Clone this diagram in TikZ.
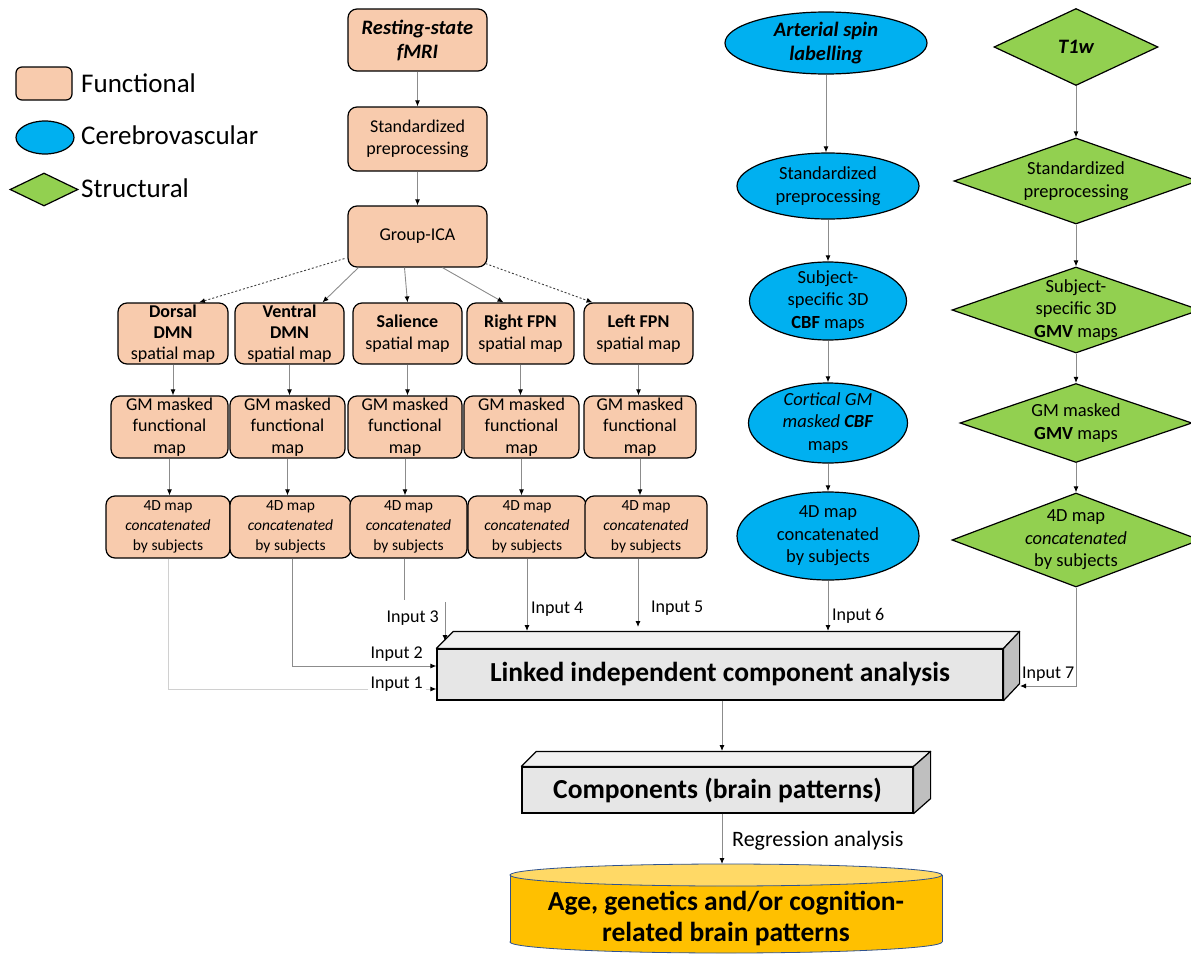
\documentclass[tikz,border=0pt]{standalone}
\usepackage{fontspec}
\setmainfont{Carlito}
\usetikzlibrary{shapes.geometric,arrows.meta,calc}
\definecolor{peach}{HTML}{F8CBAD}
\definecolor{cblue}{HTML}{00B0F0}
\definecolor{sgreen}{HTML}{92D050}
\definecolor{cylorange}{HTML}{FFC000}
\definecolor{cyltop}{HTML}{FFD966}
\definecolor{cylline}{HTML}{2F528F}
\definecolor{frontgray}{HTML}{E6E6E6}
\definecolor{topgray}{HTML}{F0F0F0}
\definecolor{sidegray}{HTML}{BFBFBF}
\definecolor{linegray}{HTML}{8C8C8C}
\definecolor{lightline}{HTML}{D0D0D0}
\newcommand{\myfs}[2]{\fontsize{#1}{#2}\selectfont}
\begin{document}
\begin{tikzpicture}[x=1pt,y=-1pt,
  fbox/.style={draw=black, line width=1.2pt, fill=peach, rounded corners=9pt, inner sep=0pt, align=center, font=\myfs{18}{22}},
  ell/.style={ellipse, draw=black, line width=1.2pt, fill=cblue, inner sep=0pt},
  dia/.style={diamond, draw=black, line width=1.2pt, fill=sgreen, inner sep=0pt},
  txt/.style={align=center, font=\myfs{18.5}{22.5}, inner sep=0pt},
  arr/.style={draw=linegray, line width=0.9pt, -{Latex[length=6pt,width=5pt,color=black]}},
  darr/.style={arr, draw=black!75, dash pattern=on 2pt off 2pt},
  plain/.style={draw=linegray, line width=0.9pt},
  lab/.style={font=\myfs{18}{22}, inner sep=0pt},
  cube/.style={draw=black, line width=1.2pt, fill=frontgray, inner sep=0pt, font=\bfseries\myfs{27.5}{32}},
  face/.style={draw=black, line width=1.2pt, line join=round}
]
\useasboundingbox (0,0) rectangle (1191,953);
\clip (0,0) rectangle (1191,953);

% ---------- legend ----------
\node[fbox, minimum width=56, minimum height=33, rounded corners=6pt] (lgf) at (44,83.5) {};
\node[ell, minimum width=58, minimum height=33] (lgc) at (45,137.5) {};
\node[dia, minimum width=68, minimum height=33] (lgs) at (44,189.5) {};
\node[anchor=base west, font=\myfs{27}{32}, inner sep=0pt] (lgft) at (81,92) {Functional};
\node[anchor=base west, font=\myfs{27}{32}, inner sep=0pt] (lgct) at (81,144) {Cerebrovascular};
\node[anchor=base west, font=\myfs{27}{32}, inner sep=0pt] (lgst) at (81,197) {Structural};

% ---------- functional column ----------
\node[fbox, minimum width=139, minimum height=62, font=\bfseries\itshape\myfs{20.5}{24}] (rs) at (417.5,40) {Resting-state\\fMRI};
\node[fbox, minimum width=139, minimum height=64] (fstd) at (417.5,139) {Standardized\\preprocessing};
\node[fbox, minimum width=139, minimum height=61] (gica) at (417.5,236.5) {Group-ICA};

\node[fbox, minimum width=110, minimum height=61, font=\myfs{18}{21}] (sp1) at (173,333.5) {\textbf{Dorsal}\\\textbf{DMN}\\spatial map};
\node[fbox, minimum width=109, minimum height=61, font=\myfs{18}{21}] (sp2) at (289.5,333.5) {\textbf{Ventral}\\\textbf{DMN}\\spatial map};
\node[fbox, minimum width=109, minimum height=61] (sp3) at (407.5,333.5) {\textbf{Salience}\\spatial map};
\node[fbox, minimum width=107, minimum height=61] (sp4) at (520.5,333.5) {\textbf{Right FPN}\\spatial map};
\node[fbox, minimum width=109, minimum height=61] (sp5) at (638.5,333.5) {\textbf{Left FPN}\\spatial map};

\node[fbox, minimum width=117, minimum height=62, font=\myfs{18}{21.5}] (gm1) at (169.5,427) {GM masked\\functional\\map};
\node[fbox, minimum width=115, minimum height=62, font=\myfs{18}{21.5}] (gm2) at (287.5,427) {GM masked\\functional\\map};
\node[fbox, minimum width=114, minimum height=62, font=\myfs{18}{21.5}] (gm3) at (405,427) {GM masked\\functional\\map};
\node[fbox, minimum width=115, minimum height=62, font=\myfs{18}{21.5}] (gm4) at (521.5,427) {GM masked\\functional\\map};
\node[fbox, minimum width=112, minimum height=62, font=\myfs{18}{21.5}] (gm5) at (640,427) {GM masked\\functional\\map};

\node[fbox, minimum width=124, minimum height=62, font=\myfs{15.5}{20}] (d41) at (168,527) {4D map\\\textit{concatenated}\\by subjects};
\node[fbox, minimum width=121, minimum height=62, font=\myfs{15.5}{20}] (d42) at (290.5,527) {4D map\\\textit{concatenated}\\by subjects};
\node[fbox, minimum width=117, minimum height=62, font=\myfs{15.5}{20}] (d43) at (408.5,527) {4D map\\\textit{concatenated}\\by subjects};
\node[fbox, minimum width=118, minimum height=62, font=\myfs{15.5}{20}] (d44) at (527,527) {4D map\\\textit{concatenated}\\by subjects};
\node[fbox, minimum width=122, minimum height=62, font=\myfs{15.5}{20}] (d45) at (646,527) {4D map\\\textit{concatenated}\\by subjects};

\draw[arr] (rs.south) -- (fstd.north);
\draw[arr] (fstd.south) -- (gica.north);
\draw[darr] ([shift={(-3,-9)}]gica.south west) -- ([xshift=26]sp1.north);
\draw[arr] ([xshift=11]gica.south west) -- ([xshift=33]sp2.north);
\draw[arr] ([xshift=-13]gica.south) -- (sp3.north);
\draw[arr] ([xshift=25]gica.south) -- ([xshift=-17]sp4.north);
\draw[darr] ([shift={(-2,-4)}]gica.south east) -- ([xshift=-46]sp5.north);
\foreach \i in {1,...,5}{
  \draw[arr] (sp\i.south) -- (sp\i.south |- gm\i.north);
  \draw[arr] (gm\i.south) -- (gm\i.south |- d4\i.north);
}

% ---------- cerebrovascular column ----------
\node[ell, minimum width=202, minimum height=62] (asl) at (826,43) {};
\node[txt, font=\bfseries\itshape\myfs{20.5}{24}] (aslt) at (826,43) {Arterial spin\\labelling};
\node[ell, minimum width=182, minimum height=66] (astd) at (828,186) {};
\node[txt] (astdt) at (828,186) {Standardized\\preprocessing};
\node[ell, minimum width=157, minimum height=78] (asub) at (828,301) {};
\node[txt] (asubt) at (828,301) {Subject-\\specific 3D\\\textbf{CBF} maps};
\node[ell, minimum width=159, minimum height=80] (acort) at (828,423) {};
\node[txt] (acortt) at (828,423) {\textit{Cortical GM}\\\textit{masked} \textbf{\textit{CBF}}\\maps};
\node[ell, minimum width=182, minimum height=88] (a4d) at (828,536) {};
\node[txt] (a4dt) at (828,536) {4D map\\concatenated\\by subjects};
\draw[arr] (asl.south) -- (asl.south |- astd.north);
\draw[arr] (astd.south) -- (asub.north);
\draw[arr] (asub.south) -- (acort.north);
\draw[arr] (acort.south) -- (a4d.north);

% ---------- structural column ----------
\node[dia, minimum width=164, minimum height=77] (t1w) at (1076,47) {};
\node[txt, font=\bfseries\itshape\myfs{20.5}{24}] (t1wt) at (1076,47) {T1w};
\node[dia, minimum width=244, minimum height=86] (tstd) at (1076,181) {};
\node[txt] (tstdt) at (1076,181) {Standardized\\preprocessing};
\node[dia, minimum width=248, minimum height=86] (tsub) at (1076,310) {};
\node[txt] (tsubt) at (1076,310) {Subject-\\specific 3D\\\textbf{GMV} maps};
\node[dia, minimum width=232, minimum height=79] (tgm) at (1076,423) {};
\node[txt] (tgmt) at (1076,423) {GM masked\\\textbf{GMV} maps};
\node[dia, minimum width=248, minimum height=94] (t4d) at (1076,540) {};
\node[txt] (t4dt) at (1076,540) {4D map\\\textit{concatenated}\\by subjects};
\draw[arr] (t1w.south) -- (tstd.north);
\draw[arr] (tstd.south) -- (tsub.north);
\draw[arr] (tsub.south) -- (tgm.north);
\draw[arr] (tgm.south) -- (t4d.north);

% ---------- LICA box ----------
\node[cube, minimum width=566, minimum height=51] (lica) at (720,674.5) {Linked independent component analysis};
\draw[face, fill=topgray] (lica.north west) -- ++(17,-17) -- ([shift={(16,-17)}]lica.north east) -- (lica.north east) -- cycle;
\draw[face, fill=sidegray] (lica.north east) -- ++(16,-17) -- ([shift={(16,-17)}]lica.south east) -- (lica.south east) -- cycle;

% ---------- Components box ----------
\node[cube, minimum width=391, minimum height=46] (comp) at (717.5,790) {Components (brain patterns)};
\draw[face, fill=topgray] (comp.north west) -- ++(15,-15) -- ([shift={(17,-15)}]comp.north east) -- (comp.north east) -- cycle;
\draw[face, fill=sidegray] (comp.north east) -- ++(17,-15) -- ([shift={(17,-15)}]comp.south east) -- (comp.south east) -- cycle;

% ---------- cylinder ----------
\filldraw[fill=cylorange, draw=cylline, line width=0.8pt] (726,942) ellipse [x radius=216, y radius=11];
\fill[cylorange] (510,875) rectangle (942,942);
\draw[cylline, line width=0.8pt] (510,875) -- (510,942) (942,875) -- (942,942);
\filldraw[fill=cyltop, draw=cylline, line width=0.8pt] (726,875) ellipse [x radius=216, y radius=11];
\node[font=\bfseries\myfs{27.5}{31}, align=center, inner sep=0pt] (cyl) at (726,918) {Age, genetics and/or cognition-\\related brain patterns};

% ---------- inputs ----------
\coordinate (y1) at (0,689);
\coordinate (y2) at (0,666);
\coordinate (y3) at (0,600);
\coordinate (y5) at (0,627);
\coordinate (ltop) at (0,631);
\coordinate (i3a) at (445,602);
\coordinate (i3b) at (445,641);
\coordinate (i7) at (1020,686);
\coordinate (ctop) at (722,751);
\coordinate (cyltopc) at (722,864);

\draw[arr, draw=lightline] (d41.south) |- (lica.west |- y1);
\draw[arr] ([xshift=1.5]d42.south) |- (lica.west |- y2);
\draw[plain] ([xshift=-4]d43.south) -- ([xshift=-4]d43.south |- y3);
\draw[arr] (i3a) -- (i3b);
\draw[arr] (d44.south) -- (d44.south |- ltop);
\draw[arr] ([xshift=-8]d45.south) -- ([xshift=-8]d45.south |- y5);
\draw[arr] (a4d.south) -- (a4d.south |- ltop);
\draw[arr] (t4d.south) |- (i7);
\draw[arr] (lica.south -| ctop) -- (ctop);
\draw[arr] (comp.south -| cyltopc) -- (cyltopc);

\node[lab, anchor=base east, fill=white, inner xsep=3pt] (l1) at (426,688) {Input 1};
\node[lab, anchor=base east] (l2) at (423,658) {Input 2};
\node[lab, anchor=base east] (l3) at (439,622) {Input 3};
\node[lab, anchor=base west] (l4) at (531,613) {Input 4};
\node[lab, anchor=base west] (l5) at (651,612) {Input 5};
\node[lab, anchor=base west] (l6) at (832,620) {Input 6};
\node[lab, anchor=base west] (l7) at (1022,678) {Input 7};
\node[anchor=base west, font=\myfs{22}{26}, inner sep=0pt] (reg) at (732,846) {Regression analysis};
\end{tikzpicture}
\end{document}
